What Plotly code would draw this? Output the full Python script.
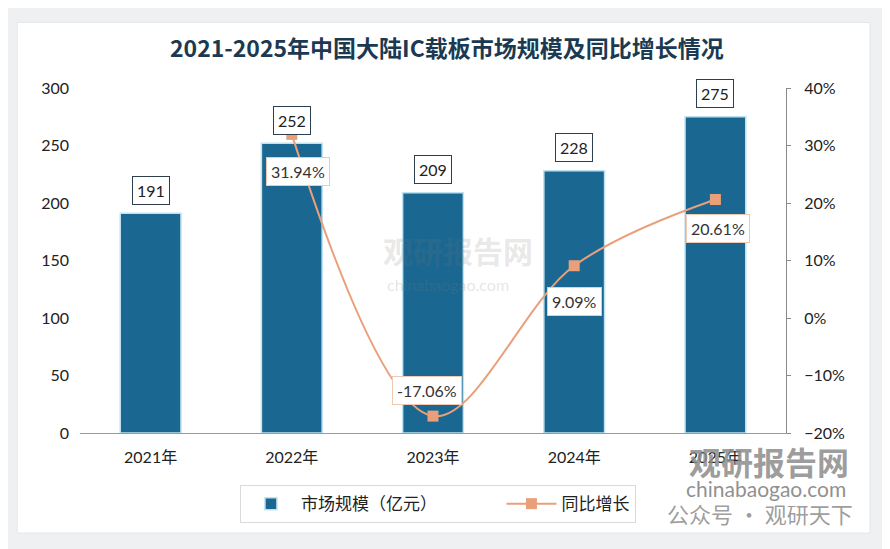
import base64

import plotly.graph_objects as go

# data
years = ['2021年', '2022年', '2023年', '2024年', '2025年']
market_size = [191, 252, 209, 228, 275]          # 亿元
yoy_years = ['2022年', '2023年', '2024年', '2025年']
yoy_growth = [31.94, -17.06, 9.09, 20.61]        # %
yoy_text = ['31.94%', '-17.06%', '9.09%', '20.61%']
yoy_shift = [(6, -37), (-6, 26), (0, -36), (3, -29)]

BAR = '#1a6892'
LINE = '#e9a07a'
FONT = 'Lato, Noto Sans CJK SC, sans-serif'
CJK = 'Noto Sans CJK SC'

# hatched plot background as a little svg
svg = ('<svg xmlns="http://www.w3.org/2000/svg" width="706" height="345">'
       '<defs><pattern id="h" width="5" height="5" patternUnits="userSpaceOnUse" '
       'patternTransform="rotate(45)"><rect width="5" height="5" fill="#fbfcfd"/>'
       '<line x1="0" y1="0" x2="0" y2="5" stroke="#d8dbdf" stroke-width="1.7"/></pattern></defs>'
       '<rect width="706" height="345" fill="url(#h)"/></svg>')
bg_src = 'data:image/svg+xml;base64,' + base64.b64encode(svg.encode()).decode()

fig = go.Figure()
# trailing ideographic spaces only widen the gap between the two legend entries
fig.add_trace(go.Bar(x=years, y=market_size, name='市场规模（亿元）\u3000\u3000\u3000\u3000',
                     marker=dict(color=BAR, line=dict(color='#bfe2f0', width=1.5)),
                     width=0.43))
fig.add_trace(go.Scatter(x=yoy_years, y=yoy_growth, name='同比增长', yaxis='y2',
                         mode='lines+markers', line=dict(color=LINE, width=2, shape='spline'),
                         marker=dict(symbol='square', size=11, color=LINE)))

for x, v in zip(years, market_size):
    fig.add_annotation(x=x, y=v, text=str(v), showarrow=False, yshift=23,
                       font=dict(size=16, color='#222'), bgcolor='white',
                       bordercolor='#2d3e4c', borderwidth=1, borderpad=4)
for x, v, t, (dx, dy) in zip(yoy_years, yoy_growth, yoy_text, yoy_shift):
    fig.add_annotation(x=x, y=v, yref='y2', text=t, showarrow=False, xshift=dx, yshift=dy,
                       font=dict(size=16, color='#333'), bgcolor='white',
                       bordercolor='#f0c9b2', borderwidth=1, borderpad=4)

# title and watermarks (anchors set explicitly, 'auto' flips them near the edges)
notes = [
    ('<b>2021-2025年中国大陆IC载板市场规模及同比增长情况</b>', 0.52, 1.119, 23, '#1b3a52', CJK),
    ('<b>观研报告网</b>', 0.535, 0.53, 30, 'rgba(120,120,120,0.18)', CJK),
    ('chinabaogao.com', 0.521, 0.429, 16, 'rgba(120,120,120,0.2)', FONT),
    ('<b>观研报告网</b>', 0.976, -0.082, 32, 'rgba(140,140,140,0.85)', CJK),
    ('chinabaogao.com', 0.972, -0.16, 21, 'rgba(130,130,130,0.9)', FONT),
    ('公众号 · 观研天下', 0.963, -0.232, 22, 'rgba(140,140,140,0.85)', CJK),
]
for text, x, y, size, color, family in notes:
    fig.add_annotation(x=x, y=y, xref='paper', yref='paper', xanchor='center', yanchor='middle',
                       text=text, showarrow=False, font=dict(size=size, color=color, family=family))

# page has an 8px body margin, so margins are shifted to keep the plot where the reference has it
fig.update_layout(
    width=890, height=549,
    margin=dict(l=72, r=112, t=80, b=124),
    paper_bgcolor='#eef0f2', plot_bgcolor='rgba(0,0,0,0)',
    font=dict(family=FONT, size=16, color='#222'),
    showlegend=True,
    legend=dict(orientation='h', x=0.507, xanchor='center', y=-0.151, yanchor='top',
                bgcolor='white', bordercolor='#d8dadd', borderwidth=1,
                font=dict(size=17, family=CJK), itemwidth=50),
    xaxis=dict(showline=True, linecolor='#9a9a9a', ticks='', tickfont=dict(size=16),
               showgrid=False, ticklabelstandoff=10),
    yaxis=dict(range=[0, 300], dtick=50, showgrid=False, zeroline=False,
               showline=False, ticks='', tickfont=dict(size=16), ticklabelstandoff=10),
    yaxis2=dict(range=[-20, 40], dtick=10, overlaying='y', side='right', showgrid=False,
                zeroline=False, showline=True, linecolor='#8a8a8a', ticks='outside',
                ticklen=4, tickcolor='#8a8a8a', ticksuffix='%', tickfont=dict(size=16),
                ticklabelstandoff=10),
    shapes=[dict(type='rect', xref='paper', yref='paper', x0=-0.089, x1=1.119,
                 y0=-0.29, y1=1.19, fillcolor='white', line=dict(color='#e4e6e9', width=1),
                 layer='below')],
    images=[dict(source=bg_src, xref='paper', yref='paper', x=0, y=1, sizex=1, sizey=1,
                 xanchor='left', yanchor='top', sizing='stretch', layer='below')],
)

fig.write_html('out.html')
